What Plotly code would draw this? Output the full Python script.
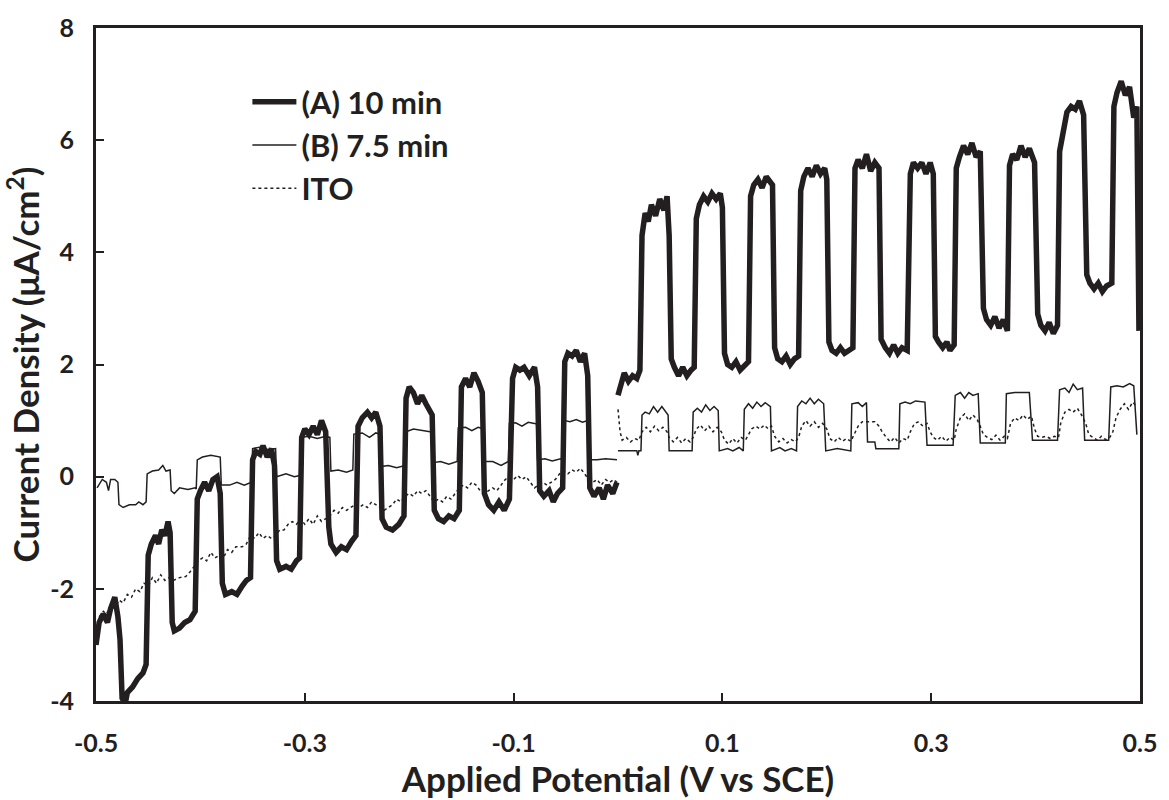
import plotly.graph_objects as go

# ---------------- data ----------------
# (A) 10 min, cathodic side (-0.5 .. 0 V)
A_left_v = [-0.500, -0.497, -0.493, -0.489, -0.486, -0.482, -0.479, -0.477, -0.475, -0.472,
            -0.470, -0.465, -0.460, -0.455, -0.452,
            -0.450, -0.447, -0.443, -0.440, -0.437, -0.434, -0.431, -0.429,
            -0.427, -0.425, -0.420, -0.415, -0.410, -0.405,
            -0.403, -0.400, -0.396, -0.392, -0.388, -0.384, -0.381,
            -0.379, -0.376, -0.370, -0.365, -0.360, -0.356, -0.352,
            -0.350, -0.347, -0.343, -0.340, -0.336, -0.332, -0.329,
            -0.327, -0.324, -0.318, -0.313, -0.308, -0.305,
            -0.303, -0.300, -0.296, -0.292, -0.288, -0.284, -0.280,
            -0.277, -0.275, -0.270, -0.265, -0.260, -0.255, -0.251,
            -0.249, -0.245, -0.240, -0.236, -0.232, -0.228,
            -0.226, -0.222, -0.216, -0.210, -0.205,
            -0.203, -0.200, -0.196, -0.192, -0.188, -0.184, -0.178,
            -0.176, -0.172, -0.167, -0.162, -0.157, -0.152,
            -0.150, -0.146, -0.142, -0.138, -0.134, -0.130,
            -0.128, -0.124, -0.119, -0.114, -0.109, -0.104,
            -0.101, -0.098, -0.094, -0.090, -0.085, -0.080, -0.077,
            -0.075, -0.071, -0.066, -0.062, -0.058, -0.053,
            -0.051, -0.048, -0.044, -0.040, -0.036, -0.032, -0.029,
            -0.027, -0.023, -0.018, -0.014, -0.010, -0.005, -0.001]
A_left_j = [-3.00, -2.60, -2.45, -2.60, -2.35, -2.15, -2.50, -2.90, -3.95, -4.05,
            -3.85, -3.75, -3.60, -3.50, -3.35,
            -1.40, -1.20, -1.05, -1.20, -0.95, -1.05, -0.80, -1.00,
            -2.60, -2.75, -2.70, -2.60, -2.55, -2.40,
            -0.40, -0.25, -0.10, -0.25, -0.05, 0.00, -0.30,
            -1.90, -2.10, -2.05, -2.10, -1.95, -1.85, -1.80,
            0.30, 0.45, 0.40, 0.55, 0.35, 0.50, 0.20,
            -1.50, -1.65, -1.60, -1.65, -1.50, -1.45,
            0.70, 0.85, 0.75, 0.90, 0.75, 1.00, 0.80,
            -0.90, -1.20, -1.35, -1.25, -1.30, -1.15, -1.05,
            0.90, 1.05, 1.15, 1.05, 1.15, 0.90,
            -0.75, -0.90, -0.95, -0.85, -0.70,
            1.40, 1.60, 1.50, 1.30, 1.45, 1.30, 1.10,
            -0.60, -0.75, -0.80, -0.70, -0.75, -0.60,
            1.60, 1.75, 1.60, 1.85, 1.70, 1.50,
            -0.30, -0.50, -0.60, -0.45, -0.60, -0.40,
            1.75, 1.95, 1.90, 1.95, 1.80, 1.95, 1.60,
            -0.25, -0.35, -0.25, -0.45, -0.30, -0.20,
            2.05, 2.20, 2.15, 2.25, 2.05, 2.20, 1.80,
            -0.20, -0.35, -0.20, -0.40, -0.15, -0.30, -0.10]

# (A) 10 min, anodic side (0 .. 0.5 V)
A_right_v = [0.000, 0.003, 0.006, 0.010, 0.014, 0.018, 0.021,
             0.023, 0.026, 0.029, 0.032, 0.036, 0.040, 0.044, 0.047, 0.049,
             0.051, 0.054, 0.058, 0.062, 0.066, 0.070, 0.073,
             0.075, 0.078, 0.082, 0.086, 0.090, 0.094, 0.098, 0.100,
             0.102, 0.105, 0.109, 0.113, 0.117, 0.122, 0.125,
             0.127, 0.130, 0.134, 0.138, 0.142, 0.146, 0.148,
             0.150, 0.153, 0.157, 0.161, 0.165, 0.169, 0.173,
             0.175, 0.178, 0.182, 0.186, 0.190, 0.194, 0.198, 0.200,
             0.202, 0.205, 0.209, 0.213, 0.217, 0.221, 0.225,
             0.227, 0.230, 0.234, 0.238, 0.242, 0.246, 0.250,
             0.252, 0.256, 0.260, 0.264, 0.268, 0.272, 0.277,
             0.280, 0.283, 0.287, 0.291, 0.295, 0.299, 0.302,
             0.304, 0.307, 0.311, 0.315, 0.318, 0.322,
             0.324, 0.327, 0.331, 0.335, 0.339, 0.343, 0.347,
             0.350, 0.353, 0.357, 0.361, 0.365, 0.369, 0.373,
             0.375, 0.378, 0.382, 0.386, 0.390, 0.394, 0.399,
             0.402, 0.405, 0.409, 0.413, 0.417, 0.421,
             0.423, 0.426, 0.430, 0.434, 0.438, 0.442, 0.446,
             0.449, 0.452, 0.456, 0.460, 0.464, 0.468, 0.473,
             0.475, 0.478, 0.482, 0.486, 0.490, 0.494, 0.497, 0.499]
A_right_j = [1.45, 1.65, 1.85, 1.70, 1.80, 1.75, 1.90,
             4.30, 4.70, 4.55, 4.85, 4.65, 4.95, 4.75, 5.00, 4.30,
             2.10, 1.95, 1.80, 1.95, 1.80, 1.90, 1.95,
             4.60, 4.85, 5.00, 4.90, 5.05, 4.95, 5.05, 4.80,
             2.20, 2.00, 1.95, 2.05, 1.90, 2.00, 2.05,
             5.00, 5.20, 5.30, 5.15, 5.35, 5.25, 5.20,
             2.30, 2.10, 2.05, 2.15, 2.00, 2.10, 2.15,
             5.10, 5.35, 5.50, 5.35, 5.55, 5.40, 5.50, 5.30,
             2.40, 2.25, 2.20, 2.30, 2.20, 2.25, 2.30,
             5.50, 5.65, 5.50, 5.75, 5.45, 5.60, 5.50,
             2.45, 2.30, 2.20, 2.35, 2.20, 2.30, 2.25,
             5.40, 5.60, 5.50, 5.60, 5.40, 5.60, 5.40,
             2.50, 2.40, 2.30, 2.40, 2.25, 2.35,
             5.50, 5.70, 5.90, 5.75, 5.95, 5.70, 5.80,
             3.00, 2.80, 2.70, 2.85, 2.65, 2.80, 2.60,
             5.55, 5.75, 5.65, 5.90, 5.70, 5.85, 5.60,
             2.90, 2.70, 2.60, 2.75, 2.55, 2.70,
             5.80, 6.10, 6.50, 6.60, 6.55, 6.70, 6.45,
             3.60, 3.45, 3.35, 3.45, 3.30, 3.40, 3.45,
             6.60, 6.85, 7.05, 6.80, 6.95, 6.40, 6.60, 2.60]

# (B) 7.5 min
B_left_v = [-0.499, -0.494, -0.490, -0.488, -0.486, -0.482, -0.479,
            -0.478, -0.474, -0.468, -0.462, -0.459, -0.455, -0.452,
            -0.451, -0.446, -0.440, -0.436, -0.433, -0.429,
            -0.428, -0.425, -0.420, -0.412, -0.405, -0.404,
            -0.403, -0.398, -0.390, -0.381,
            -0.380, -0.372, -0.365, -0.358, -0.351,
            -0.350, -0.342, -0.335, -0.328,
            -0.327, -0.318, -0.310, -0.305,
            -0.304, -0.296, -0.288, -0.280, -0.276,
            -0.275, -0.268, -0.260, -0.254,
            -0.253, -0.245, -0.238, -0.232, -0.228,
            -0.227, -0.220, -0.212, -0.204,
            -0.203, -0.196, -0.188, -0.180, -0.178,
            -0.177, -0.170, -0.162, -0.154,
            -0.153, -0.146, -0.140, -0.134, -0.130,
            -0.128, -0.120, -0.112, -0.105,
            -0.104, -0.098, -0.092, -0.086, -0.080, -0.078,
            -0.077, -0.070, -0.063, -0.055, -0.052,
            -0.051, -0.046, -0.040, -0.034, -0.029,
            -0.028, -0.020, -0.012, -0.001]
B_left_j = [-0.20, -0.05, -0.10, -0.25, -0.05, -0.05, -0.10,
            -0.50, -0.55, -0.50, -0.50, -0.45, -0.50, -0.45,
            0.05, 0.10, 0.12, 0.20, 0.10, 0.12,
            -0.25, -0.30, -0.20, -0.23, -0.20, -0.22,
            0.30, 0.35, 0.38, 0.35,
            -0.15, -0.15, -0.10, -0.15, -0.10,
            0.50, 0.53, 0.48, 0.50,
            0.00, 0.05, 0.00, 0.02,
            0.70, 0.72, 0.68, 0.72, 0.70,
            0.10, 0.12, 0.08, 0.12,
            0.76, 0.78, 0.70, 0.78, 0.76,
            0.18, 0.20, 0.16, 0.20,
            0.80, 0.85, 0.82, 0.80, 0.80,
            0.25, 0.27, 0.22, 0.27,
            0.87, 0.88, 0.82, 0.88, 0.86,
            0.27, 0.27, 0.20, 0.27,
            0.95, 0.96, 0.90, 0.97, 0.95, 0.94,
            0.30, 0.32, 0.28, 0.32, 0.30,
            1.00, 0.98, 1.02, 0.97, 1.00,
            0.30, 0.30, 0.32, 0.30]

B_right_v = [0.000, 0.010, 0.018, 0.019, 0.020, 0.022,
             0.023, 0.026, 0.030, 0.034, 0.038, 0.042, 0.046, 0.048,
             0.049, 0.060, 0.071,
             0.072, 0.076, 0.080, 0.084, 0.088, 0.092, 0.096,
             0.097, 0.105, 0.110, 0.116, 0.120,
             0.121, 0.125, 0.129, 0.133, 0.137, 0.141, 0.146,
             0.147, 0.155, 0.160, 0.166, 0.171,
             0.172, 0.176, 0.180, 0.184, 0.188, 0.192, 0.197,
             0.199, 0.210, 0.220, 0.223,
             0.224, 0.230, 0.234, 0.238,
             0.239, 0.246, 0.247, 0.260, 0.269,
             0.270, 0.275, 0.280, 0.285, 0.294,
             0.296, 0.310, 0.321,
             0.323, 0.328, 0.332, 0.336, 0.340, 0.345,
             0.347, 0.360, 0.371,
             0.372, 0.380, 0.388, 0.394,
             0.397, 0.410, 0.421,
             0.423, 0.428, 0.432, 0.436, 0.440, 0.445,
             0.447, 0.460, 0.470,
             0.472, 0.478, 0.484, 0.490, 0.494, 0.497]
B_right_j = [0.46, 0.46, 0.46, 0.38, 0.46, 0.46,
             1.10, 1.15, 1.12, 1.25, 1.15, 1.25, 1.15, 1.10,
             0.46, 0.46, 0.46,
             1.15, 1.22, 1.15, 1.28, 1.18, 1.25, 1.18,
             0.46, 0.50, 0.46, 0.52, 0.46,
             1.20, 1.30, 1.22, 1.33, 1.25, 1.32, 1.25,
             0.46, 0.52, 0.46, 0.50, 0.46,
             1.25, 1.35, 1.30, 1.40, 1.30, 1.38, 1.30,
             0.46, 0.50, 0.46, 0.46,
             1.30, 1.32, 1.25, 1.32,
             0.62, 0.62, 0.50, 0.50, 0.50,
             1.30, 1.33, 1.30, 1.35, 1.33,
             0.56, 0.56, 0.56,
             1.45, 1.50, 1.40, 1.50, 1.45, 1.48,
             0.60, 0.60, 0.60,
             1.48, 1.50, 1.50, 1.50,
             0.65, 0.65, 0.65,
             1.55, 1.58, 1.50, 1.65, 1.55, 1.58,
             0.65, 0.65, 0.65,
             1.60, 1.62, 1.60, 1.66, 1.62, 0.75]

# ITO
ITO_left_v = [-0.497, -0.493, -0.490, -0.486, -0.482, -0.478, -0.474, -0.470, -0.466, -0.462,
              -0.458, -0.454, -0.450, -0.446, -0.442, -0.438, -0.434, -0.430, -0.426, -0.420,
              -0.414, -0.410, -0.406, -0.402, -0.398, -0.394, -0.390, -0.386, -0.382, -0.378,
              -0.374, -0.370, -0.366, -0.360, -0.356, -0.352, -0.348, -0.344, -0.340, -0.336,
              -0.332, -0.328, -0.324, -0.320, -0.316, -0.312, -0.308, -0.304, -0.300, -0.296,
              -0.292, -0.288, -0.284, -0.280, -0.276, -0.272, -0.268, -0.264, -0.260, -0.256,
              -0.252, -0.248, -0.244, -0.240, -0.236, -0.232, -0.228, -0.224, -0.220, -0.216,
              -0.212, -0.208, -0.204, -0.200, -0.196, -0.192, -0.188, -0.184, -0.180, -0.176,
              -0.172, -0.168, -0.164, -0.160, -0.156, -0.152, -0.148, -0.144, -0.140, -0.136,
              -0.132, -0.128, -0.124, -0.120, -0.116, -0.112, -0.108, -0.104, -0.100, -0.096,
              -0.092, -0.088, -0.084, -0.080, -0.076, -0.072, -0.068, -0.064, -0.060, -0.056,
              -0.052, -0.048, -0.044, -0.040, -0.036, -0.032, -0.028, -0.024, -0.020, -0.016,
              -0.012, -0.008, -0.004, -0.001]
ITO_left_j = [-2.50, -2.40, -2.45, -2.30, -2.35, -2.20, -2.25, -2.10, -2.15, -2.00,
              -2.05, -1.90, -1.95, -1.80, -1.90, -1.75, -1.85, -1.80, -1.85, -1.80,
              -1.78, -1.70, -1.60, -1.50, -1.45, -1.50, -1.35, -1.45, -1.40, -1.45,
              -1.30, -1.35, -1.25, -1.25, -1.20, -1.05, -1.10, -1.00, -1.10, -1.05,
              -1.10, -1.05, -0.95, -0.95, -0.85, -0.80, -0.85, -0.75, -0.85, -0.75,
              -0.85, -0.70, -0.80, -0.75, -0.70, -0.60, -0.65, -0.55, -0.60, -0.55,
              -0.50, -0.55, -0.50, -0.55, -0.45, -0.50, -0.55, -0.60, -0.55, -0.50,
              -0.40, -0.45, -0.35, -0.30, -0.35, -0.25, -0.30, -0.25, -0.35, -0.45,
              -0.40, -0.45, -0.35, -0.40, -0.30, -0.20, -0.15, -0.20, -0.10, -0.15,
              -0.25, -0.30, -0.25, -0.20, -0.25, -0.15, -0.05, 0.00, -0.05, 0.02,
              -0.05, 0.00, -0.10, -0.20, -0.15, -0.10, -0.15, -0.10, -0.05, 0.05,
              0.10, 0.05, 0.12, 0.08, 0.15, 0.05, -0.05, -0.10, -0.05, -0.15,
              -0.05, -0.10, -0.05, -0.10]

ITO_right_v = [0.000, 0.001, 0.002, 0.004, 0.008, 0.012, 0.016, 0.020,
               0.023, 0.027, 0.031, 0.035, 0.039, 0.043, 0.047,
               0.049, 0.053, 0.057, 0.061, 0.065, 0.069, 0.072,
               0.075, 0.079, 0.083, 0.087, 0.091, 0.095, 0.099,
               0.102, 0.106, 0.110, 0.114, 0.118, 0.122,
               0.125, 0.128, 0.132, 0.136, 0.140, 0.144, 0.147,
               0.150, 0.154, 0.158, 0.162, 0.166, 0.170, 0.173,
               0.176, 0.180, 0.184, 0.188, 0.192, 0.196, 0.200,
               0.203, 0.207, 0.211, 0.215, 0.219, 0.223,
               0.226, 0.230, 0.234, 0.240, 0.246, 0.250,
               0.253, 0.257, 0.261, 0.265, 0.269, 0.273, 0.277,
               0.280, 0.284, 0.288, 0.292, 0.296, 0.299,
               0.302, 0.306, 0.310, 0.314, 0.318, 0.322,
               0.324, 0.328, 0.332, 0.336, 0.340, 0.344, 0.347,
               0.350, 0.354, 0.358, 0.362, 0.366, 0.370, 0.373,
               0.376, 0.380, 0.384, 0.388, 0.392, 0.396, 0.399,
               0.402, 0.406, 0.410, 0.414, 0.418, 0.422,
               0.424, 0.428, 0.432, 0.436, 0.440, 0.444, 0.448,
               0.451, 0.455, 0.459, 0.463, 0.467, 0.471, 0.474,
               0.477, 0.481, 0.485, 0.489, 0.493, 0.497]
ITO_right_j = [1.20, 1.00, 0.80, 0.65, 0.70, 0.62, 0.68, 0.65,
               0.80, 0.88, 0.80, 0.90, 0.82, 0.88, 0.80,
               0.70, 0.62, 0.70, 0.60, 0.68, 0.62, 0.70,
               0.85, 0.92, 0.82, 0.90, 0.80, 0.88, 0.80,
               0.65, 0.58, 0.68, 0.60, 0.70, 0.65,
               0.75, 0.85, 0.90, 0.85, 0.92, 0.85, 0.90,
               0.72, 0.62, 0.68, 0.60, 0.66, 0.62, 0.70,
               0.90, 1.00, 0.90, 0.98, 0.88, 0.95, 0.85,
               0.68, 0.62, 0.70, 0.63, 0.68, 0.63,
               0.75, 0.90, 0.98, 0.98, 0.98, 0.90,
               0.80, 0.70, 0.62, 0.70, 0.60, 0.68, 0.65,
               0.80, 0.95, 0.98, 0.90, 0.95, 0.80,
               0.70, 0.65, 0.72, 0.63, 0.70, 0.65,
               0.85, 1.05, 1.12, 1.00, 1.10, 1.02, 0.90,
               0.75, 0.70, 0.66, 0.74, 0.65, 0.72, 0.68,
               0.95, 1.05, 1.00, 1.10, 1.02, 1.08, 0.85,
               0.72, 0.70, 0.72, 0.68, 0.72, 0.70,
               0.95, 1.15, 1.20, 1.15, 1.22, 1.10, 0.95,
               0.75, 0.70, 0.65, 0.72, 0.66, 0.70, 0.80,
               1.05, 1.20, 1.30, 1.20, 1.33, 1.25]

series_names = ["(A) 10 min", "(B) 7.5 min", "ITO"]
x_ticks = [-0.5, -0.3, -0.1, 0.1, 0.3, 0.5]
y_ticks = [-4, -2, 0, 2, 4, 6, 8]

# ---------------- figure ----------------
INK = "#231f20"
FONT = "Lato"

fig = go.Figure()
fig.add_trace(go.Scatter(x=A_left_v + [None] + A_right_v, y=A_left_j + [None] + A_right_j,
                         mode="lines", name=series_names[0], connectgaps=False,
                         line=dict(color=INK, width=5.5)))
fig.add_trace(go.Scatter(x=B_left_v + [None] + B_right_v, y=B_left_j + [None] + B_right_j,
                         mode="lines", name=series_names[1], connectgaps=False,
                         line=dict(color=INK, width=1.5)))
fig.add_trace(go.Scatter(x=ITO_left_v + [None] + ITO_right_v, y=ITO_left_j + [None] + ITO_right_j,
                         mode="lines", name=series_names[2], connectgaps=False,
                         line=dict(color=INK, width=1.5, dash="3px,3px")))

axis_common = dict(showgrid=False, zeroline=False, showline=True, linecolor=INK, linewidth=3,
                   mirror=True, ticks="inside", ticklen=8, tickwidth=2, tickcolor=INK,
                   tickfont=dict(family=FONT, size=25, color=INK, weight="bold"))

fig.update_xaxes(range=[-0.5, 0.5], tickvals=x_ticks, ticktext=[f"{t:g}" for t in x_ticks],
                 ticklabelstandoff=18,
                 title=dict(text="Applied Potential (V vs SCE)", standoff=6,
                            font=dict(family=FONT, size=35, color=INK, weight="bold")),
                 **axis_common)
fig.update_yaxes(range=[-4, 8], tickvals=y_ticks, ticktext=[str(t) for t in y_ticks],
                 ticklabelstandoff=14,
                 title=dict(text="Current Density (μA/cm<sup>2</sup>)", standoff=4,
                            font=dict(family=FONT, size=35, color=INK, weight="bold")),
                 **axis_common)

fig.update_layout(
    width=1169, height=800,
    margin=dict(l=96, r=23, t=25, b=96),
    paper_bgcolor="white", plot_bgcolor="white",
    showlegend=True,
    legend=dict(x=0.145, y=0.93, xanchor="left", yanchor="top",
                bgcolor="rgba(0,0,0,0)", borderwidth=0,
                font=dict(family=FONT, size=31, color=INK, weight="bold"),
                tracegroupgap=0, itemwidth=44),
)
for i, tr in enumerate(fig.data):
    tr.legendgroup = f"g{i}"

fig.write_html("out.html")
